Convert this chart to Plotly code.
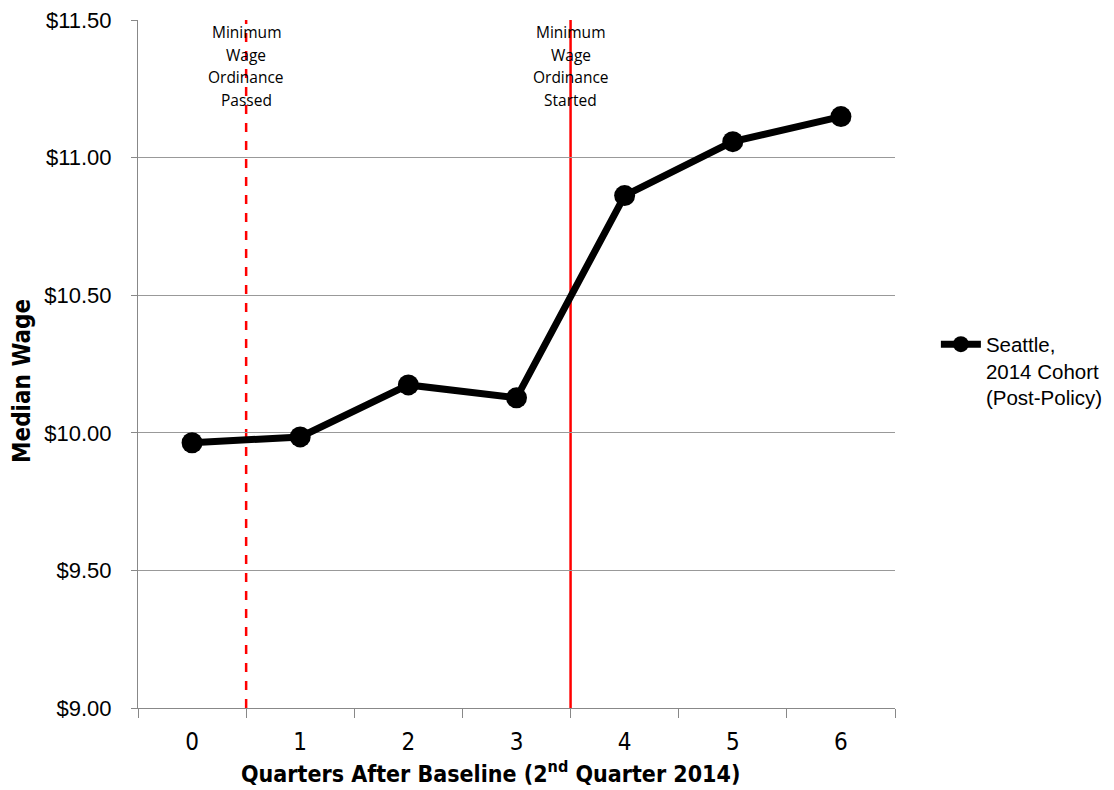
import plotly.graph_objects as go

quarters = ["0", "1", "2", "3", "4", "5", "6"]
median_wage = [9.964, 9.985, 10.174, 10.127, 10.862, 11.058, 11.149]
series_name = "Seattle,<br>2014 Cohort<br>(Post-Policy)"
y_ticks = [9.0, 9.5, 10.0, 10.5, 11.0, 11.5]
y_tick_labels = ["$9.00", "$9.50", "$10.00", "$10.50", "$11.00", "$11.50"]
event_positions = [0.5, 3.5]
event_labels = [["Minimum", "Wage", "Ordinance", "Passed"],
                ["Minimum", "Wage", "Ordinance", "Started"]]
event_dashes = ["dash", "solid"]
x_title = "<b>Quarters After Baseline (2<sup>nd</sup> Quarter 2014)</b>"
y_title = "<b>Median Wage</b>"

NARROW = "DejaVu Sans Condensed, Liberation Sans Narrow, Arial Narrow, Liberation Sans"

fig = go.Figure()
fig.add_trace(go.Scatter(
    x=quarters, y=median_wage, mode="lines+markers", name=series_name,
    line=dict(color="black", width=7),
    marker=dict(color="black", size=21),
))

for pos, dash, lines in zip(event_positions, event_dashes, event_labels):
    fig.add_shape(type="line", xref="x", yref="paper", x0=pos, x1=pos, y0=0, y1=1,
                  line=dict(color="#ff0000", width=2.5, dash=dash), layer="below")
    for i, t in enumerate(lines):
        fig.add_annotation(x=pos, xref="x", y=1, yref="paper", yshift=-12 - 22.6 * i,
                           text=t, showarrow=False, yanchor="middle",
                           font=dict(family="Open Sans, Lato", size=15.5, color="black"))

# axis titles as annotations (offset from plot centre like the reference)
fig.add_annotation(x=0.5, xref="paper", y=0, yref="paper", xshift=-26, yshift=-64,
                   text=x_title, showarrow=False, yanchor="middle", xanchor="center",
                   font=dict(size=23, family=NARROW, color="black"))
fig.add_annotation(x=0, xref="paper", y=0.5, yref="paper", xshift=-116, yshift=-17,
                   text=y_title, showarrow=False, textangle=-90,
                   yanchor="middle", xanchor="center",
                   font=dict(size=24, family=NARROW, color="black"))

fig.update_layout(
    width=1106, height=782,
    margin=dict(l=130, r=219, t=12, b=82, autoexpand=False),
    plot_bgcolor="white", paper_bgcolor="white",
    font=dict(family="Liberation Sans, Arial", color="black"),
    showlegend=True,
    legend=dict(x=1.054, xanchor="left", y=0.49, yanchor="middle", valign="top",
                font=dict(size=20.5, family="Liberation Sans, Arial"),
                itemwidth=40, tracegroupgap=0, borderwidth=0),
    xaxis=dict(
        type="category", range=[-0.5, 6.5], tickson="boundaries",
        ticks="outside", ticklen=9, tickcolor="#888", tickwidth=1,
        ticklabelstandoff=12, automargin=False,
        showline=True, linecolor="#888", linewidth=1,
        showgrid=False, tickfont=dict(size=24, family=NARROW),
    ),
    yaxis=dict(
        range=[9.0, 11.5], tickvals=y_ticks, ticktext=y_tick_labels,
        ticks="outside", ticklen=6, tickcolor="#888", automargin=False,
        ticklabelstandoff=15, ticklabeloverflow="allow",
        showline=True, linecolor="#888", linewidth=1,
        showgrid=True, gridcolor="#999", gridwidth=1, zeroline=False,
        tickfont=dict(size=22),
    ),
)

fig.write_html("out.html")
